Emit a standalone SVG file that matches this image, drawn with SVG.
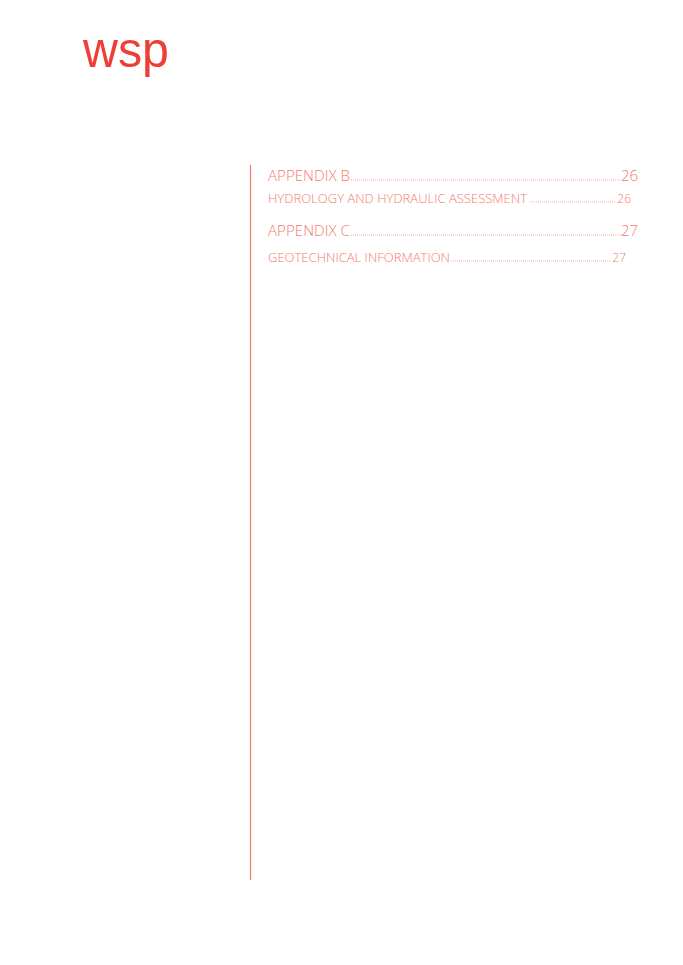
<svg xmlns="http://www.w3.org/2000/svg" width="683" height="965" viewBox="0 0 683 965">
<style>
.t{font-family:"Open Sans","Liberation Sans",sans-serif;fill:#f47a6e;font-weight:300}
.h{font-size:15px}
.s{font-size:12px}
.d{stroke:#f47a6e;stroke-width:0.8;stroke-dasharray:0.8 1.2}
</style>
<rect width="683" height="965" fill="#fff"/>
<g id="logo"><text x="83" y="67" font-family="Liberation Sans,sans-serif" font-size="50" fill="#ef3e36" textLength="86" lengthAdjust="spacingAndGlyphs">wsp</text></g>
<g id="rule"><line x1="250.5" y1="165" x2="250.5" y2="880" stroke="#f47a6e" stroke-width="1.2"/></g>
<g id="toc">
<text class="t h" x="268" y="181" textLength="82" lengthAdjust="spacingAndGlyphs">APPENDIX B</text>
<line class="d" x1="351" y1="180" x2="621" y2="180"/>
<text class="t h" x="638" y="181" text-anchor="end">26</text>
<text class="t s" x="268" y="203" textLength="259" lengthAdjust="spacingAndGlyphs">HYDROLOGY AND HYDRAULIC ASSESSMENT</text>
<line class="d" x1="530" y1="202" x2="616" y2="202"/>
<text class="t s" x="631" y="203" text-anchor="end">26</text>
<text class="t h" x="268" y="236" textLength="82" lengthAdjust="spacingAndGlyphs">APPENDIX C</text>
<line class="d" x1="351" y1="235" x2="622" y2="235"/>
<text class="t h" x="638" y="236" text-anchor="end">27</text>
<text class="t s" x="268" y="262" textLength="182" lengthAdjust="spacingAndGlyphs">GEOTECHNICAL INFORMATION</text>
<line class="d" x1="451" y1="261" x2="611" y2="261"/>
<text class="t s" x="626" y="262" text-anchor="end">27</text>
</g>
</svg>
